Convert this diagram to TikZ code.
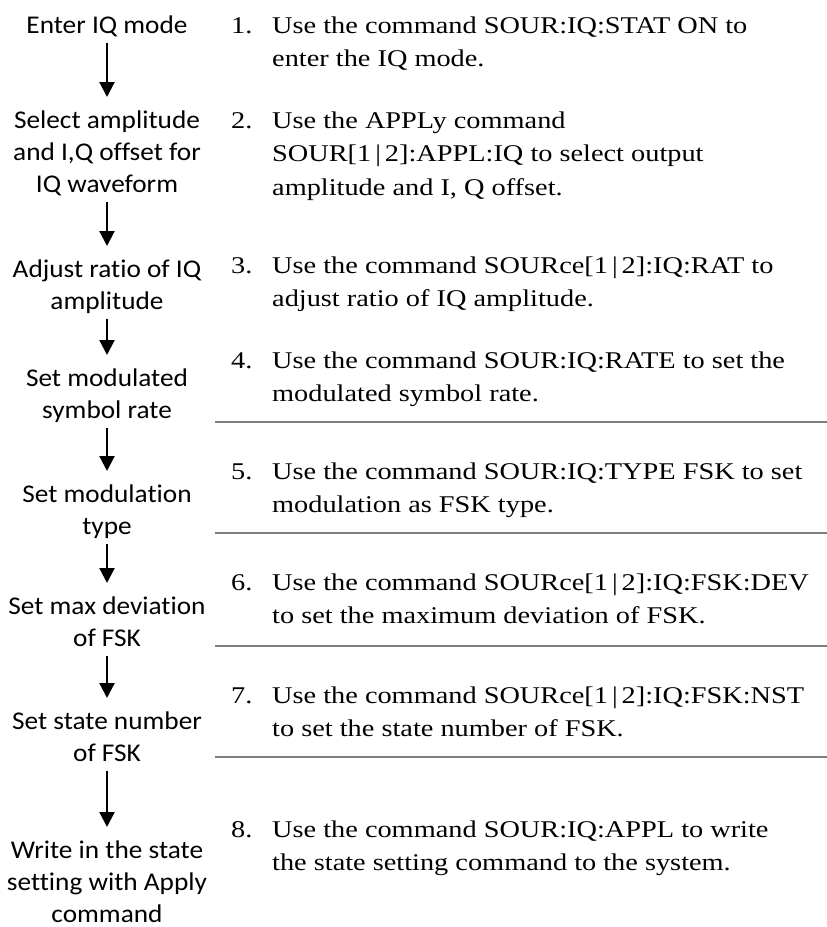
\documentclass[tikz,border=0pt]{standalone}
\usepackage{fontspec}
\setmainfont{Liberation Serif}[FakeStretch=1.18]
\newfontfamily\stepfont{Carlito}[FakeStretch=1.07,Ligatures={NoCommon,NoRequired,NoContextual},RawFeature={-liga;-dlig;-clig}]
\usetikzlibrary{arrows.meta}
\definecolor{sepgray}{HTML}{7F7F7F}
\newcommand\hstrut{\rule{0pt}{24pt}}
\newcommand\dstrut{\rule[-8pt]{0pt}{8pt}}
\begin{document}
\begin{tikzpicture}[x=1pt,y=-1pt,
  lstep/.style={font=\stepfont\fontsize{25.5}{32}\selectfont, align=center, anchor=north, inner sep=0pt},
  num/.style={font=\fontsize{24}{33.5}\selectfont, anchor=north west, inner sep=0pt},
  desc/.style={font=\fontsize{24}{33.5}\selectfont, align=left, anchor=north west, inner sep=0pt},
  flow/.style={line width=2.2pt, -{Triangle[width=15pt,length=15pt]}, shorten <=2pt, shorten >=7pt},
  sepline/.style={draw=sepgray, line width=2pt}]
\useasboundingbox (0,0) rectangle (827,927);
% left column
\node[lstep] (l1) at (107,9)   {\hstrut Enter IQ mode\dstrut};
\node[lstep] (l2) at (107,104) {\hstrut Select amplitude\\and I,Q offset for\\IQ waveform\dstrut};
\node[lstep] (l3) at (107,253) {\hstrut Adjust ratio of IQ\\amplitude\dstrut};
\node[lstep] (l4) at (107,362) {\hstrut Set modulated\\symbol rate\dstrut};
\node[lstep] (l5) at (107,478) {\hstrut Set modulation\\type\dstrut};
\node[lstep] (l6) at (107,590) {\hstrut Set max deviation\\of FSK\dstrut};
\node[lstep] (l7) at (107,705) {\hstrut Set state number\\of FSK\dstrut};
\node[lstep] (l8) at (107,834) {\hstrut Write in the state\\setting with Apply\\command};
\draw[flow] (l1) -- (l2);
\draw[flow] (l2) -- (l3);
\draw[flow] (l3) -- (l4);
\draw[flow] (l4) -- (l5);
\draw[flow] (l5) -- (l6);
\draw[flow] (l6) -- (l7);
\draw[flow] (l7) -- (l8);
% right column
\node[num] (n1) at (231,9)   {\hstrut 1.};
\node[desc] (t1) at (272,9)   {\hstrut Use the command SOUR:IQ:STAT ON to\\enter the IQ mode.};
\node[num] (n2) at (231,104) {\hstrut 2.};
\node[desc] (t2) at (272,104) {\hstrut Use the APPLy command\\SOUR[1\,|\,2]:APPL:IQ to select output\\amplitude and I, Q offset.};
\node[num] (n3) at (231,249) {\hstrut 3.};
\node[desc] (t3) at (272,249) {\hstrut Use the command SOURce[1\,|\,2]:IQ:RAT to\\adjust ratio of IQ amplitude.};
\node[num] (n4) at (231,344) {\hstrut 4.};
\node[desc] (t4) at (272,344) {\hstrut Use the command SOUR:IQ:RATE to set the\\modulated symbol rate.};
\node[num] (n5) at (231,455) {\hstrut 5.};
\node[desc] (t5) at (272,455) {\hstrut Use the command SOUR:IQ:TYPE FSK to set\\modulation as FSK type.};
\node[num] (n6) at (231,566) {\hstrut 6.};
\node[desc] (t6) at (272,566) {\hstrut Use the command SOURce[1\,|\,2]:IQ:FSK:DEV\\to set the maximum deviation of FSK.};
\node[num] (n7) at (231,679) {\hstrut 7.};
\node[desc] (t7) at (272,679) {\hstrut Use the command SOURce[1\,|\,2]:IQ:FSK:NST\\to set the state number of FSK.};
\node[num] (n8) at (231,813) {\hstrut 8.};
\node[desc] (t8) at (272,813) {\hstrut Use the command SOUR:IQ:APPL to write\\the state setting command to the system.};
% separators
\draw[sepline] (215,422) -- (827,422);
\draw[sepline] (215,533) -- (827,533);
\draw[sepline] (215,646) -- (827,646);
\draw[sepline] (215,757) -- (827,757);
\end{tikzpicture}
\end{document}
